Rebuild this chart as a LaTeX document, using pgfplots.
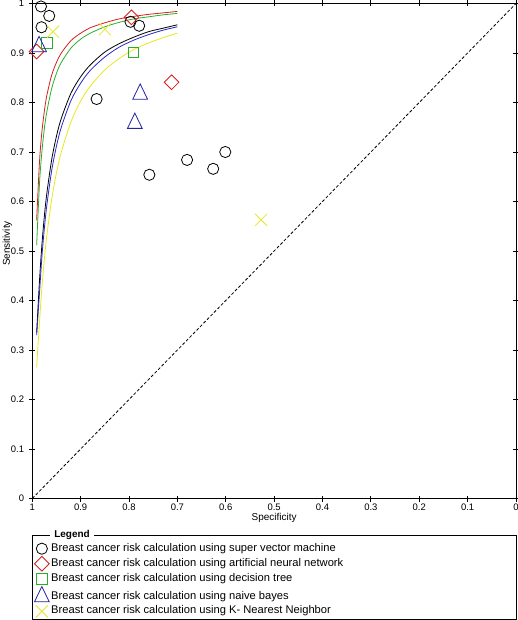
\documentclass[border=0pt]{standalone}
\usepackage{fontspec}
\setmainfont{Liberation Sans}
\usepackage{pgfplots}
\pgfplotsset{compat=1.18}
\pgfplotsset{mylegimg/.style={legend image code/.code={\draw[##1] plot coordinates {(0bp,0bp)};}}}
\definecolor{cred}{RGB}{215,30,30}
\definecolor{cgreen}{RGB}{40,175,40}
\definecolor{cblue}{RGB}{35,35,160}
\definecolor{cbluel}{RGB}{40,40,200}
\definecolor{cyel}{RGB}{232,228,40}
\definecolor{cyelc}{RGB}{235,230,30}
\begin{document}
\begin{tikzpicture}
\useasboundingbox (-32.3bp,-121.5bp) rectangle (485.7bp,498.5bp);
\begin{axis}[
  scale only axis, width=483.7bp, height=495bp,
  at={(0,0)}, anchor=south west,
  xmin=0, xmax=1, ymin=0, ymax=1, x dir=reverse,
  xtick={0,0.1,0.2,0.3,0.4,0.5,0.6,0.7,0.8,0.9,1},
  ytick={0,0.1,0.2,0.3,0.4,0.5,0.6,0.7,0.8,0.9,1},
  /pgf/number format/assume math mode=true,
  tick label style={font=\fontsize{9.5}{11}\selectfont},
  xticklabel style={inner sep=1bp, yshift=-1.5bp},
  yticklabel style={inner sep=1bp, xshift=-4bp},
  tick align=center, major tick length=6bp,
  tick style={black, line width=0.8bp},
  axis line style={line width=0.8bp},
  xlabel={Specificity}, ylabel={Sensitivity},
  label style={font=\fontsize{10}{12}\selectfont},
  xlabel style={at={(axis description cs:0.5,0)}, anchor=center, yshift=-19bp},
  ylabel style={at={(axis description cs:0,0.515)}, anchor=center, yshift=25bp},
  legend style={at={(0,0)}, anchor=north west, xshift=2bp, yshift=-43bp,
    draw=none, fill=none, inner sep=0pt, row sep=0.7bp,
    font=\fontsize{11.2}{12}\selectfont,
    nodes={inner sep=2bp, text height=7.5bp, text depth=2.5bp}},
  legend cell align=left,
]
% diagonal
\addplot[black, dashed, dash pattern=on 3bp off 2bp, line width=0.8bp, forget plot] coordinates {(1,0) (0,1)};
% SROC curves
\addplot[cred, line width=0.8bp, smooth, forget plot] coordinates {
(0.991,0.562)(0.985,0.682)(0.98,0.742)(0.975,0.783)(0.97,0.814)(0.96,0.855)(0.95,0.881)(0.94,0.900)(0.92,0.925)(0.90,0.940)(0.88,0.951)(0.85,0.961)(0.82,0.969)(0.79,0.974)(0.76,0.978)(0.73,0.981)(0.70,0.984)};
\addplot[cgreen, line width=0.8bp, smooth, forget plot] coordinates {
(0.991,0.512)(0.985,0.638)(0.98,0.702)(0.975,0.748)(0.97,0.781)(0.96,0.828)(0.95,0.859)(0.94,0.881)(0.92,0.910)(0.90,0.928)(0.88,0.940)(0.85,0.953)(0.82,0.962)(0.79,0.969)(0.76,0.973)(0.73,0.977)(0.70,0.980)};
\addplot[black, line width=0.8bp, smooth, forget plot] coordinates {
(0.991,0.335)(0.985,0.442)(0.98,0.514)(0.975,0.571)(0.97,0.616)(0.96,0.684)(0.95,0.732)(0.94,0.768)(0.92,0.819)(0.90,0.852)(0.88,0.876)(0.85,0.902)(0.82,0.919)(0.79,0.932)(0.76,0.943)(0.73,0.950)(0.70,0.957)};
\addplot[cbluel, line width=0.8bp, smooth, forget plot] coordinates {
(0.991,0.330)(0.985,0.417)(0.98,0.490)(0.975,0.546)(0.97,0.592)(0.96,0.662)(0.95,0.712)(0.94,0.750)(0.92,0.804)(0.90,0.839)(0.88,0.865)(0.85,0.892)(0.82,0.912)(0.79,0.926)(0.76,0.937)(0.73,0.946)(0.70,0.953)};
\addplot[cyelc, line width=0.8bp, smooth, forget plot] coordinates {
(0.991,0.265)(0.985,0.358)(0.98,0.428)(0.975,0.484)(0.97,0.531)(0.96,0.604)(0.95,0.658)(0.94,0.700)(0.92,0.761)(0.90,0.803)(0.88,0.833)(0.85,0.866)(0.82,0.889)(0.79,0.907)(0.76,0.920)(0.73,0.931)(0.70,0.940)};
% markers
\addplot[black, only marks, mark=o, mark size=5.6bp, mark options={line width=0.8bp}, mylegimg] coordinates {
(0.982,0.994)(0.965,0.975)(0.981,0.952)(0.867,0.807)(0.797,0.963)(0.779,0.955)(0.758,0.654)(0.680,0.684)(0.626,0.666)(0.601,0.700)};
\addlegendentry{Breast cancer risk calculation using super vector machine}
\addplot[cred, only marks, mark=square, mark size=5.2bp, mark options={rotate=45, line width=0.8bp}, mylegimg] coordinates {
(0.991,0.903)(0.795,0.972)(0.712,0.841)};
\addlegendentry{Breast cancer risk calculation using artificial neural network}
\addplot[cgreen, only marks, mark=square, mark size=5.3bp, mark options={line width=0.8bp}, mylegimg] coordinates {
(0.970,0.921)(0.791,0.901)};
\addlegendentry{Breast cancer risk calculation using decision tree}
\addplot[cblue, only marks, mark=triangle, mark size=8.5bp, mark options={yscale=1.2, line width=0.8bp}, mylegimg] coordinates {
(0.986,0.913)(0.777,0.817)(0.788,0.758)};
\addlegendentry{Breast cancer risk calculation using naive bayes}
\addplot[cyel, only marks, mark=x, mark size=8.5bp, mark options={line width=0.8bp}, mylegimg] coordinates {
(0.957,0.943)(0.850,0.948)(0.527,0.563)};
\addlegendentry{Breast cancer risk calculation using K- Nearest Neighbor}
\end{axis}
\draw[line width=0.9bp] (-0.3bp,-36.5bp) rectangle (483.7bp,-120.5bp);
\node[fill=white, font=\bfseries\fontsize{10}{12}\selectfont, inner xsep=4bp, inner ysep=1bp] at (39.7bp,-36.5bp) {Legend};
\end{tikzpicture}
\end{document}
